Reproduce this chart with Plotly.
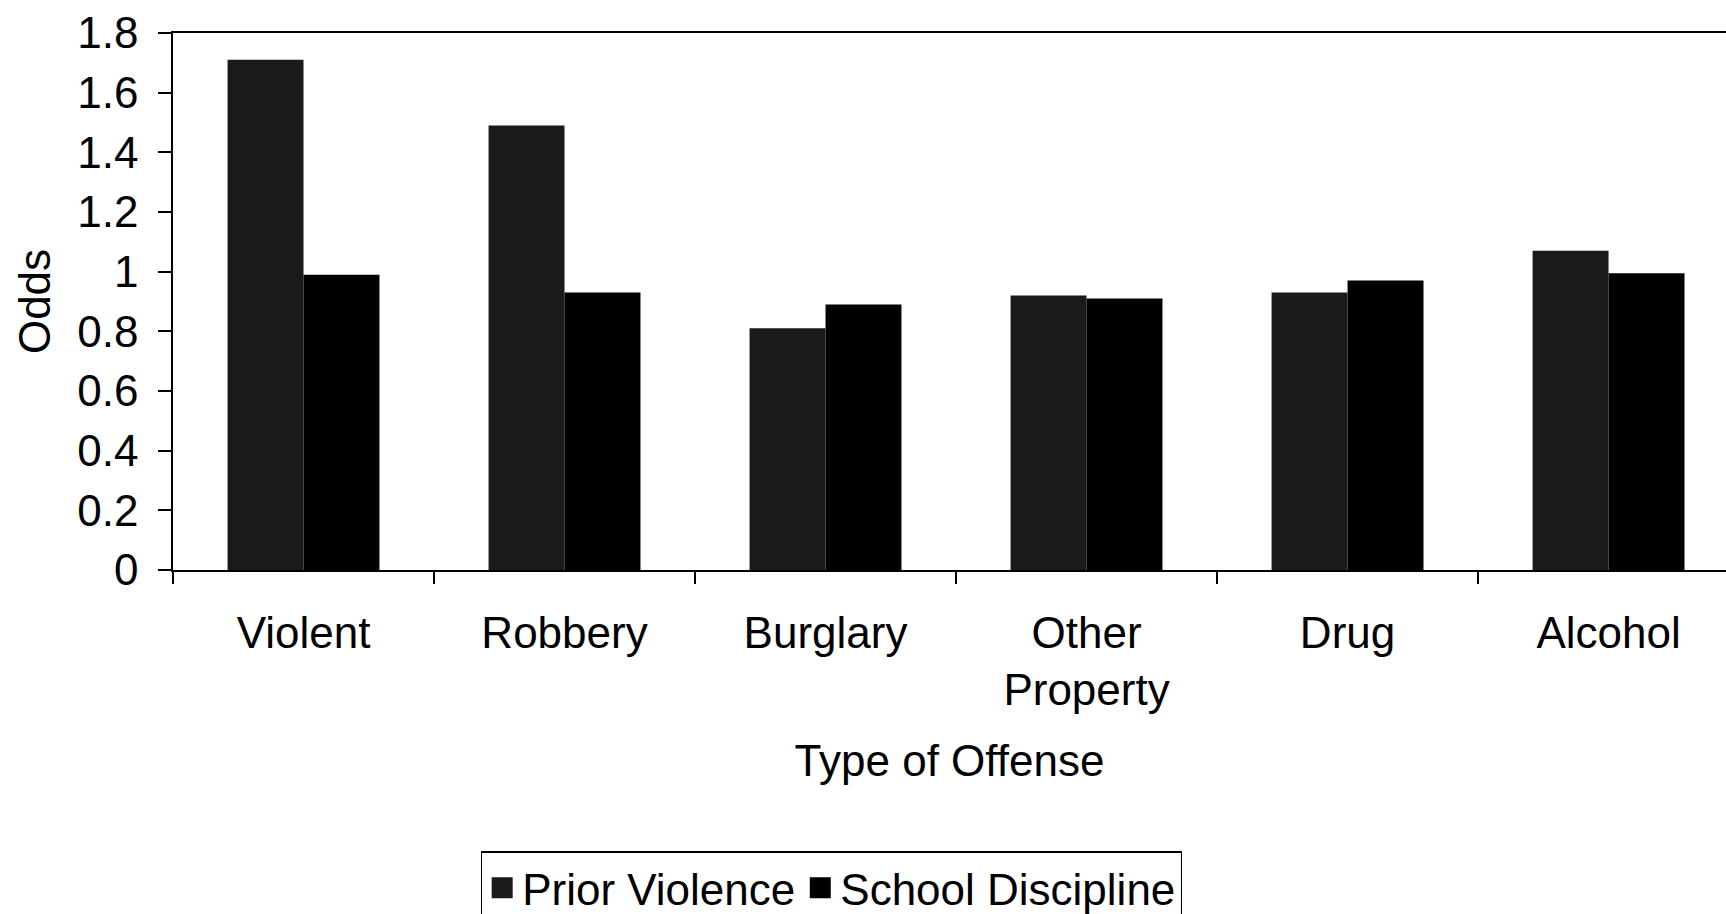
import plotly.graph_objects as go

categories = ["Violent", "Robbery", "Burglary", "Other<br>Property", "Drug", "Alcohol"]
series_names = ["Prior Violence", "School Discipline"]
prior_violence = [1.71, 1.49, 0.81, 0.92, 0.93, 1.07]
school_discipline = [0.99, 0.93, 0.89, 0.91, 0.97, 0.995]
y_ticks = [0, 0.2, 0.4, 0.6, 0.8, 1.0, 1.2, 1.4, 1.6, 1.8]
colors = ["#1a1a1a", "#000000"]

FONT = "Liberation Sans, Arial, sans-serif"
FS = 44

fig = go.Figure()
for name, vals, col in zip(series_names, [prior_violence, school_discipline], colors):
    fig.add_trace(go.Bar(name=name, x=categories, y=vals, showlegend=False,
                         marker=dict(color=col, line=dict(width=0))))
# legend entries (larger square swatches)
for name, col in zip(series_names, colors):
    fig.add_trace(go.Scatter(name=name, x=[None], y=[None], mode="markers",
                             marker=dict(symbol="square", size=16, color=col,
                                         line=dict(color=col, width=5))))

fig.update_layout(
    width=1726, height=914,
    paper_bgcolor="white", plot_bgcolor="white",
    margin=dict(l=173, r=0, t=33, b=344, autoexpand=False),
    barmode="group", bargap=0.418, bargroupgap=0,
    font=dict(family=FONT, size=FS, color="black"),
    showlegend=True,
    legend=dict(orientation="h", x=0.424, xanchor="center", y=-0.524, yanchor="top",
                bordercolor="black", borderwidth=1.2, bgcolor="white",
                font=dict(size=FS), itemsizing="trace", traceorder="normal",
                itemwidth=30, tracegroupgap=0),
)
fig.update_xaxes(
    range=[-0.5, 5.45], showline=True, linecolor="black", linewidth=1.5, mirror=True,
    ticks="outside", tickson="boundaries", ticklen=12, tickcolor="black", tickwidth=1.5,
    showgrid=False, zeroline=False, tickfont=dict(size=FS), automargin=False,
    ticklabelstandoff=23,
    title=dict(text="Type of Offense", font=dict(size=FS), standoff=32),
)
fig.update_yaxes(
    range=[0, 1.8], tickvals=y_ticks, showline=True, linecolor="black", linewidth=1.5,
    ticks="outside", ticklen=13, tickcolor="black", tickwidth=1.5,
    showgrid=False, zeroline=False, tickfont=dict(size=FS), automargin=False,
    ticklabelstandoff=11,
    title=dict(text="Odds", font=dict(size=FS), standoff=13),
)

fig.write_html("out.html", config={"displayModeBar": False},
               post_script="document.body.style.margin='0';document.body.style.overflow='hidden';")
